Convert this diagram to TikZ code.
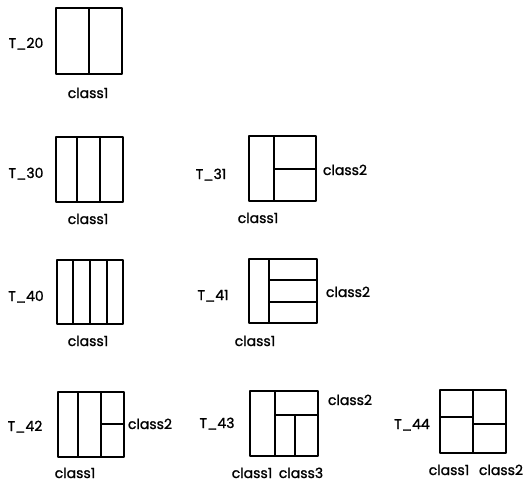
\documentclass[tikz,border=0pt]{standalone}
\usepackage{fontspec}
\newfontfamily\lblfont{Poppins}[FakeBold=1.2]
\begin{document}
\begin{tikzpicture}[x=1pt,y=-1pt,
  cell/.style={line width=1.4pt,line join=round},
  lbl/.style={font=\lblfont\fontsize{14}{16}\selectfont,inner sep=0pt,anchor=base}]
\useasboundingbox (0,0) rectangle (528,482);

% T_20
\draw[cell] (56,8) rectangle (122,74);
\draw[cell] (89,8) -- (89,74);
\node[lbl] (t20) at (26,48) {T\_20};
\node[lbl] (c20) at (88,98) {class1};

% T_30
\draw[cell] (56,137) rectangle (123,202);
\draw[cell] (77,137) -- (77,202) (100,137) -- (100,202);
\node[lbl] (t30) at (26,178) {T\_30};
\node[lbl] (c30) at (88,224) {class1};

% T_31
\draw[cell] (249,136) rectangle (316,201);
\draw[cell] (274,136) -- (274,201) (274,169) -- (316,169);
\node[lbl] (t31) at (211,179) {T\_31};
\node[lbl] (c31a) at (258,223) {class1};
\node[lbl] (c31b) at (345,175) {class2};

% T_40
\draw[cell] (57,260) rectangle (123,324);
\draw[cell] (73,260) -- (73,324) (90,260) -- (90,324) (107,260) -- (107,324);
\node[lbl] (t40) at (26,301) {T\_40};
\node[lbl] (c40) at (88,346) {class1};

% T_41
\draw[cell] (249,259) rectangle (317,323);
\draw[cell] (269,259) -- (269,323) (269,280) -- (317,280) (269,302) -- (317,302);
\node[lbl] (t41) at (213,300) {T\_41};
\node[lbl] (c41a) at (255,346) {class1};
\node[lbl] (c41b) at (348,297) {class2};

% T_42
\draw[cell] (58,392) rectangle (124,457);
\draw[cell] (78,392) -- (78,457) (101,392) -- (101,457) (101,424) -- (124,424);
\node[lbl] (t42) at (25,431) {T\_42};
\node[lbl] (c42a) at (75,478) {class1};
\node[lbl] (c42b) at (150,429) {class2};

% T_43
\draw[cell] (250,391) rectangle (318,456);
\draw[cell] (275,391) -- (275,456) (275,415) -- (318,415) (295,415) -- (295,456);
\node[lbl] (t43) at (217,428) {T\_43};
\node[lbl] (c43a) at (252,478) {class1};
\node[lbl] (c43b) at (301,478) {class3};
\node[lbl] (c43c) at (350,405) {class2};

% T_44
\draw[cell] (440,390) rectangle (506,453);
\draw[cell] (473,390) -- (473,453) (440,417) -- (473,417) (473,424) -- (506,424);
\node[lbl] (t44) at (412,429) {T\_44};
\node[lbl] (c44a) at (449,475) {class1};
\node[lbl] (c44b) at (501,475) {class2};
\end{tikzpicture}
\end{document}
